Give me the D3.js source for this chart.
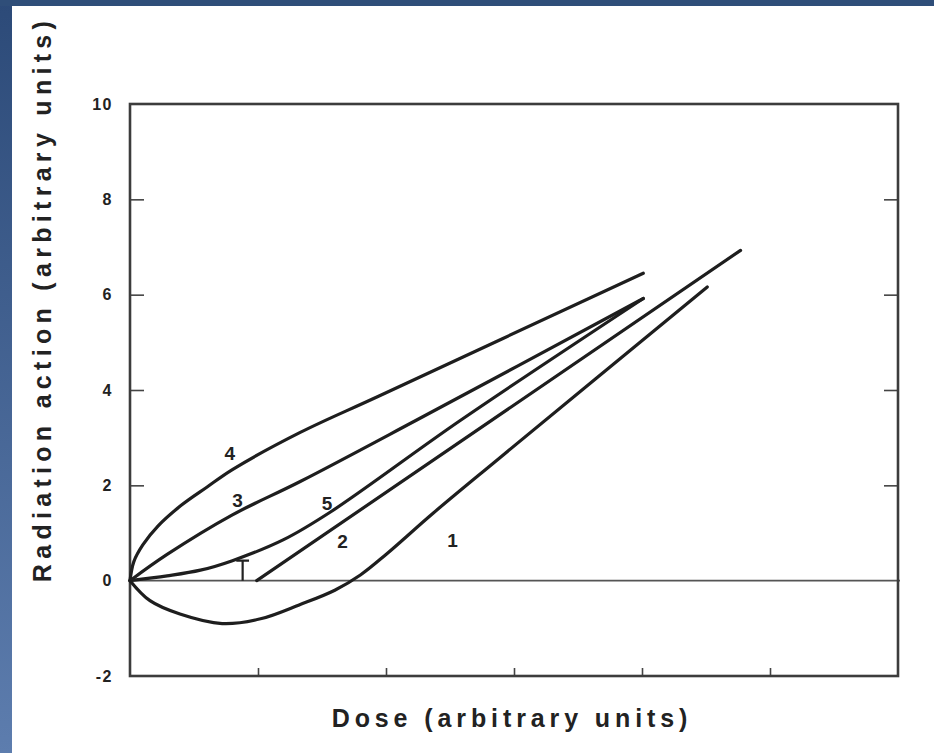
<!DOCTYPE html>
<html>
<head>
<meta charset="utf-8">
<script src="https://cdn.jsdelivr.net/npm/d3@7"></script>
<style>
  body { margin: 0; background: #fff; }
  svg { display: block; }
  .lbl { font-family: "Liberation Sans", Arial, sans-serif; font-weight: bold; fill: #222; }
</style>
</head>
<body>
<svg id="chart"></svg>
<script>
// curves, [dose, action]
var curve1 = [[0,0],[0.156,-0.42],[0.39,-0.7],[0.72,-0.9],[1.02,-0.8],[1.33,-0.5],[1.6,-0.2],[1.8,0.12],[2.0,0.55],[2.37,1.42],[2.89,2.58],[4.51,6.16]];
var curve2 = [[0.99,0],[4.77,6.93]];
var curve3 = [[0,0],[0.29,0.55],[0.8,1.38],[1.33,2.08],[2.24,3.37],[4.01,5.92]];
var curve4 = [[0,0],[0.03,0.4],[0.1,0.75],[0.22,1.15],[0.4,1.58],[0.6,1.96],[0.8,2.33],[1.33,3.11],[1.95,3.88],[4.01,6.45]];
var curve5 = [[0,0],[0.29,0.1],[0.55,0.22],[0.8,0.42],[1.2,0.86],[1.56,1.43],[2.58,3.36],[4.01,5.92]];
var curveNames = ["1","2","3","4","5"];
var labelPos = [[2.52,0.84],[1.66,0.82],[0.84,1.68],[0.78,2.67],[1.54,1.62]];
var markerT = [0.88, 0.42]; // small "T" under curve 5
var yTicks = [10,8,6,4,2,0,-2];
var yInner = [8,6,4,2];
var xTicks = [1,2,3,4,5];

var W = 934, H = 753;
var margin = { top: 104, right: 36, bottom: 77, left: 130 };

var svg = d3.select("#chart").attr("width", W).attr("height", H);

// slide background bits
var defs = svg.append("defs");
var grad = defs.append("linearGradient").attr("id", "side").attr("x1", 0).attr("y1", 0).attr("x2", 0).attr("y2", 1);
grad.append("stop").attr("offset", "0%").attr("stop-color", "#2c4a78");
grad.append("stop").attr("offset", "100%").attr("stop-color", "#5d7dae");
svg.append("rect").attr("x", 0).attr("y", 0).attr("width", 12).attr("height", H).attr("fill", "url(#side)");
svg.append("rect").attr("x", 0).attr("y", 0).attr("width", W).attr("height", 6).attr("fill", "#2f4e79");

var x = d3.scaleLinear().domain([0, 6]).range([margin.left, W - margin.right]);
var y = d3.scaleLinear().domain([-2, 10]).range([H - margin.bottom, margin.top]);

// zero line
svg.append("line")
   .attr("x1", x(0)).attr("x2", x(6) + 2)
   .attr("y1", y(0)).attr("y2", y(0))
   .attr("stroke", "#555").attr("stroke-width", 1.6);

// left axis with labels
var gl = svg.append("g")
   .attr("transform", "translate(" + x(0) + ",0)")
   .call(d3.axisLeft(y).tickValues(yTicks).tickSize(0).tickPadding(17).tickFormat(d => String(d)));
gl.select(".domain").remove();
gl.selectAll("text").attr("class", "lbl").attr("font-size", 16).attr("letter-spacing", 1.5).attr("fill", "#2a2a2a");

svg.append("g")
   .attr("transform", "translate(" + x(0) + ",0)")
   .call(d3.axisRight(y).tickValues(yInner).tickSize(14).tickFormat(""))
   .call(g => g.select(".domain").remove())
   .selectAll("line").attr("stroke", "#444").attr("stroke-width", 1.6);

svg.append("g")
   .attr("transform", "translate(" + x(6) + ",0)")
   .call(d3.axisLeft(y).tickValues(yInner).tickSize(14).tickFormat(""))
   .call(g => g.select(".domain").remove())
   .selectAll("line").attr("stroke", "#444").attr("stroke-width", 1.6);

svg.append("g")
   .attr("transform", "translate(0," + y(-2) + ")")
   .call(d3.axisTop(x).tickValues(xTicks).tickSize(8).tickFormat(""))
   .call(g => g.select(".domain").remove())
   .selectAll("line").attr("stroke", "#444").attr("stroke-width", 1.6);

// frame
svg.append("rect")
   .attr("x", x(0)).attr("y", y(10))
   .attr("width", x(6) - x(0)).attr("height", y(-2) - y(10))
   .attr("fill", "none").attr("stroke", "#3c3c3c").attr("stroke-width", 2.6);

// curves
var line = d3.line()
   .x(d => x(d[0]))
   .y(d => y(d[1]))
   .curve(d3.curveCatmullRom.alpha(0.5));

var curves = [curve1, curve2, curve3, curve4, curve5];
svg.selectAll("path.curve")
   .data(curves)
   .enter()
   .append("path")
   .attr("class", "curve")
   .attr("d", line)
   .attr("fill", "none")
   .attr("stroke", "#1e1e1e")
   .attr("stroke-width", 3.2)
   .attr("stroke-linecap", "round");

// little T mark
svg.append("path")
   .attr("d", "M" + x(markerT[0]) + "," + y(0) + "V" + y(markerT[1]) +
              "M" + x(markerT[0] - 0.05) + "," + y(markerT[1]) + "H" + x(markerT[0] + 0.05))
   .attr("fill", "none").attr("stroke", "#222").attr("stroke-width", 2.2);

svg.selectAll("text.num")
   .data(curveNames)
   .enter()
   .append("text")
   .attr("class", "lbl num")
   .attr("x", (d, i) => x(labelPos[i][0]))
   .attr("y", (d, i) => y(labelPos[i][1]))
   .attr("dy", "0.35em")
   .attr("text-anchor", "middle")
   .attr("font-size", 19)
   .text(d => d);

// axis titles
svg.append("text")
   .attr("class", "lbl")
   .attr("x", 512).attr("y", 727)
   .attr("text-anchor", "middle")
   .attr("font-size", 25)
   .attr("letter-spacing", 4.9)
   .text("Dose (arbitrary units)");

svg.append("text")
   .attr("class", "lbl")
   .attr("transform", "translate(51,299) rotate(-90)")
   .attr("text-anchor", "middle")
   .attr("font-size", 25)
   .attr("letter-spacing", 5.3)
   .text("Radiation action (arbitrary units)");
</script>
</body>
</html>
